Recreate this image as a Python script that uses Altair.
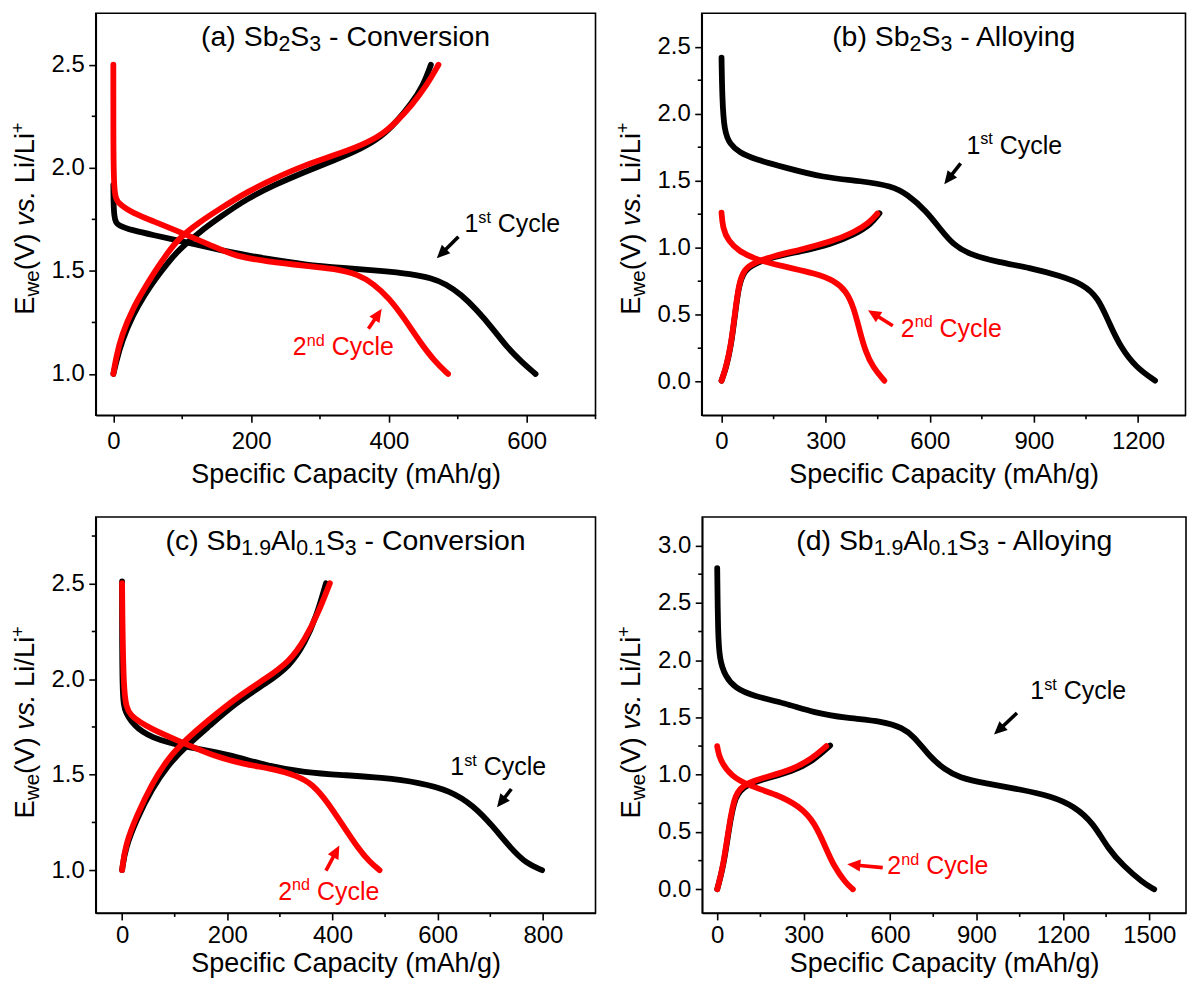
import math
import altair as alt
import pandas as pd

FONT = "Liberation Sans"
INK = "#000000"
RED = "#ff0000"

# ================= data =================
# (a) Sb2S3 - Conversion
a1d_x = [0, 0.5, 6.6, 28.8, 56.5, 100.8, 167, 223, 278, 333.5, 389, 433, 461, 483, 505, 527, 550, 572, 594, 613]
a1d_y = [1.917, 1.748, 1.72, 1.696, 1.675, 1.643, 1.591, 1.559, 1.53, 1.514, 1.501, 1.485, 1.466, 1.437, 1.385, 1.313, 1.224, 1.127, 1.055, 1.0]
a1c_x = [0, 3.9, 12.2, 28.8, 45.4, 62, 78.7, 95.3, 123, 156, 195, 234, 278, 322, 361, 389, 411, 433, 450, 461]
a1c_y = [1.0, 1.055, 1.16, 1.289, 1.385, 1.466, 1.538, 1.603, 1.683, 1.764, 1.852, 1.917, 1.981, 2.038, 2.094, 2.15, 2.223, 2.312, 2.40, 2.5]
a2d_x = [0, 0, 0.5, 6.6, 28.8, 56.5, 100.8, 145, 178, 223, 278, 322, 356, 378, 400, 422, 444, 466, 486]
a2d_y = [2.5, 2.175, 1.868, 1.828, 1.78, 1.743, 1.683, 1.619, 1.570, 1.546, 1.525, 1.511, 1.482, 1.437, 1.369, 1.272, 1.16, 1.063, 1.0]
a2c_x = [0, 3.9, 12.2, 28.8, 45.4, 62, 78.7, 95.3, 123, 156, 195, 234, 278, 322, 361, 389, 411, 433, 455, 472]
a2c_y = [1.0, 1.079, 1.191, 1.321, 1.417, 1.506, 1.587, 1.659, 1.732, 1.804, 1.885, 1.949, 2.013, 2.062, 2.11, 2.158, 2.223, 2.303, 2.40, 2.5]

# (b) Sb2S3 - Alloying
b1d_x = [0, 2, 7.7, 24, 51.6, 95.6, 183.5, 293, 403, 491, 535, 590, 634, 667, 711, 799, 887, 975, 1041, 1085, 1118, 1150, 1194, 1249]
b1d_y = [2.418, 2.12, 1.871, 1.772, 1.71, 1.66, 1.598, 1.523, 1.498, 1.461, 1.399, 1.275, 1.126, 1.026, 0.952, 0.89, 0.852, 0.79, 0.728, 0.629, 0.43, 0.256, 0.107, 0.0075]
b1c_x = [0, 13.2, 27.5, 38.5, 49.5, 64.8, 95.6, 150.5, 227, 315, 381, 431, 455]
b1c_y = [0.0075, 0.102, 0.268, 0.492, 0.716, 0.828, 0.882, 0.932, 0.972, 1.026, 1.096, 1.175, 1.257]
b2d_x = [0, 3.3, 18.7, 51.6, 95.6, 183.5, 271, 326, 359, 381, 398, 414, 436, 469]
b2d_y = [1.262, 1.151, 1.051, 0.972, 0.914, 0.857, 0.808, 0.753, 0.678, 0.554, 0.380, 0.231, 0.107, 0.0075]
b2c_x = [0, 13.2, 27.5, 38.5, 49.5, 64.8, 95.6, 150.5, 227, 315, 381, 425, 449]
b2c_y = [0.0075, 0.107, 0.281, 0.504, 0.728, 0.84, 0.89, 0.939, 0.984, 1.044, 1.113, 1.185, 1.255]

# (c) Sb1.9Al0.1S3 - Conversion
c1d_x = [0, 0, 5.8, 27.6, 71, 129.5, 202, 275, 347.6, 420, 493, 566, 624, 668, 704, 740, 769.5, 798.5]
c1d_y = [2.512, 1.894, 1.825, 1.738, 1.677, 1.642, 1.607, 1.546, 1.512, 1.498, 1.485, 1.459, 1.416, 1.338, 1.233, 1.111, 1.033, 1.0]
c1c_x = [0, 5.8, 27.6, 56.7, 85.8, 122, 166, 216.7, 275, 318.6, 347.6, 369.5, 387.6]
c1c_y = [1.0, 1.111, 1.268, 1.425, 1.546, 1.651, 1.755, 1.877, 1.981, 2.068, 2.19, 2.329, 2.503]
c2d_x = [0, 2.2, 13, 56.7, 115, 173, 231, 289.5, 333, 362, 391, 420, 449.5, 471, 489.5]
c2d_y = [2.503, 1.894, 1.807, 1.738, 1.668, 1.599, 1.555, 1.529, 1.494, 1.451, 1.355, 1.233, 1.111, 1.042, 1.0]
c2c_x = [0, 5.8, 27.6, 56.7, 85.8, 122, 166, 216.7, 275, 318.6, 347.6, 373, 395]
c2c_y = [1.0, 1.129, 1.285, 1.451, 1.581, 1.686, 1.79, 1.903, 2.007, 2.094, 2.208, 2.347, 2.503]

# (d) Sb1.9Al0.1S3 - Alloying
d1d_x = [0, 2.6, 8, 27.8, 61, 127, 233, 339, 445, 577, 643, 683, 736, 789, 842, 921, 1054, 1160, 1239, 1305, 1358, 1411, 1477, 1517]
d1d_y = [2.802, 2.236, 2.004, 1.859, 1.757, 1.684, 1.626, 1.539, 1.496, 1.467, 1.408, 1.336, 1.162, 1.045, 0.973, 0.929, 0.871, 0.813, 0.726, 0.581, 0.348, 0.203, 0.058, 0.0]
d1c_x = [0, 21, 41, 61, 100.6, 180, 259.5, 330, 392]
d1c_y = [0.0, 0.19, 0.53, 0.82, 0.915, 0.975, 1.03, 1.115, 1.255]
d2d_x = [0, 8, 47.7, 114, 206.5, 286, 339, 379, 405, 445, 471]
d2d_y = [1.249, 1.133, 0.987, 0.9, 0.828, 0.726, 0.581, 0.348, 0.203, 0.058, 0.0]
d2c_x = [0, 21, 41, 61, 100.6, 180, 259.5, 325.7, 378.6]
d2c_y = [0.0, 0.203, 0.552, 0.842, 0.929, 0.987, 1.045, 1.133, 1.249]

# axis ranges and ticks
x_domains = {"a": [-25.5, 700], "b": [-57, 1336.7], "c": [-50, 900], "d": [-52, 1627.4]}
y_domains = {"a": [0.8, 2.75], "b": [-0.25, 2.75], "c": [0.776, 2.85], "d": [-0.2065, 3.25]}
x_major = {"a": [0, 200, 400, 600], "b": [0, 300, 600, 900, 1200],
           "c": [0, 200, 400, 600, 800], "d": [0, 300, 600, 900, 1200, 1500]}
x_minor = {"a": [100, 300, 500, 700], "b": [150, 450, 750, 1050],
           "c": [100, 300, 500, 700], "d": [150, 450, 750, 1050, 1350]}
y_major = {"a": [1.0, 1.5, 2.0, 2.5], "b": [0.0, 0.5, 1.0, 1.5, 2.0, 2.5],
           "c": [1.0, 1.5, 2.0, 2.5], "d": [0.0, 0.5, 1.0, 1.5, 2.0, 2.5, 3.0]}
y_minor = {"a": [1.25, 1.75, 2.25], "b": [0.25, 0.75, 1.25, 1.75, 2.25],
           "c": [1.25, 1.75, 2.25, 2.75], "d": [0.25, 0.75, 1.25, 1.75, 2.25, 2.75]}

# titles (rich text pieces: n = normal, sub, sup, it)
titles = {
    "a": [("(a) Sb", "n"), ("2", "sub"), ("S", "n"), ("3", "sub"), (" - Conversion", "n")],
    "b": [("(b) Sb", "n"), ("2", "sub"), ("S", "n"), ("3", "sub"), (" - Alloying", "n")],
    "c": [("(c) Sb", "n"), ("1.9", "sub"), ("Al", "n"), ("0.1", "sub"), ("S", "n"), ("3", "sub"), (" - Conversion", "n")],
    "d": [("(d) Sb", "n"), ("1.9", "sub"), ("Al", "n"), ("0.1", "sub"), ("S", "n"), ("3", "sub"), (" - Alloying", "n")],
}
y_title = [("E", "n"), ("we", "sub"), ("(V) ", "n"), ("vs.", "it"), (" Li/Li", "n"), ("+", "sup")]
x_title = "Specific Capacity (mAh/g)"
lab1 = [("1", "n"), ("st", "sup"), (" Cycle", "n")]
lab2 = [("2", "n"), ("nd", "sup"), (" Cycle", "n")]

# annotation anchors (text start, baseline) and arrows (tail -> tip), data units
ann1 = {"a": (509.7, 1.687), "b": (705.5, 1.702), "c": (624, 1.498), "d": (1087, 1.661)}
ann2 = {"a": (260.6, 1.09), "b": (516.5, 0.335), "c": (296.7, 0.845), "d": (590.5, 0.131)}
arr1 = {"a": (501, 1.666, 469.6, 1.561), "b": (689, 1.630, 641.7, 1.474),
        "c": (740, 1.425, 712.8, 1.329), "d": (1040.6, 1.539, 961, 1.350)}
arr2 = {"a": (370.3, 1.219, 389.6, 1.316), "b": (493.4, 0.4175, 422, 0.534),
        "c": (387.6, 0.998, 413, 1.129), "d": (574.6, 0.189, 451.4, 0.218)}

curves = {
    "a": [(a1d_x, a1d_y, INK), (a1c_x, a1c_y, INK), (a2d_x, a2d_y, RED), (a2c_x, a2c_y, RED)],
    "b": [(b1d_x, b1d_y, INK), (b1c_x, b1c_y, INK), (b2d_x, b2d_y, RED), (b2c_x, b2c_y, RED)],
    "c": [(c1d_x, c1d_y, INK), (c1c_x, c1c_y, INK), (c2d_x, c2d_y, RED), (c2c_x, c2c_y, RED)],
    "d": [(d1d_x, d1d_y, INK), (d1c_x, d1c_y, INK), (d2d_x, d2d_y, RED), (d2c_x, d2c_y, RED)],
}

# ================= layout / style =================
W = {"a": 501, "b": 485, "c": 501, "d": 485}
HH = {"a": 403, "b": 403, "c": 397, "d": 397}
TITLE_FS = 28.5
AX_TITLE_FS = 27
YT_FS = 27.5
TICK_FS = 24
ANN_FS = 25
SUB_R = 0.75
SUP_R = 0.65

CW = {' ': 278, '(': 333, ')': 333, '+': 584, '-': 333, '.': 278, '/': 278,
      'A': 667, 'C': 722, 'E': 667, 'L': 556, 'S': 667, 'V': 667,
      'a': 556, 'b': 556, 'c': 500, 'd': 556, 'e': 556, 'f': 278, 'g': 556,
      'h': 556, 'i': 222, 'l': 222, 'm': 833, 'n': 556, 'o': 556, 'p': 556,
      'r': 333, 's': 500, 't': 278, 'v': 500, 'w': 722, 'y': 500}

ONE = pd.DataFrame({"k": [0]})


def text_w(s, fs):
    return sum(CW.get(ch, 556) for ch in s) * fs / 1000.0


def rich(pieces, fs, color=INK, angle=0, center=True, px=None, data_pos=None, enc=None):
    sizes = []
    for t, k in pieces:
        sizes.append(fs * SUB_R if k == "sub" else fs * SUP_R if k == "sup" else fs)
    widths = [text_w(t, s) for (t, k), s in zip(pieces, sizes)]
    cur = -sum(widths) / 2 if center else 0.0
    layers = []
    for (t, k), s, w in zip(pieces, sizes, widths):
        lead = len(t) - len(t.lstrip(" "))
        shown = t.strip(" ")
        dy = 0.18 * fs if k == "sub" else (-0.38 * fs if k == "sup" else 0.0)
        mk = dict(text=shown, font=FONT, fontSize=s, align="left",
                  baseline="alphabetic", dx=cur + text_w(" " * lead, s), dy=dy, color=color,
                  fontStyle="italic" if k == "it" else "normal")
        if angle:
            mk["angle"] = angle
        if data_pos is not None:
            df = pd.DataFrame({"x": [data_pos[0]], "y": [data_pos[1]]})
            layer = alt.Chart(df).mark_text(**mk).encode(x=enc[0]("x:Q"), y=enc[1]("y:Q"))
        else:
            layer = alt.Chart(ONE).mark_text(**mk).encode(
                x=alt.value(px[0]), y=alt.value(px[1]))
        layers.append(layer)
        cur += w
    return layers


def arrow(tail_tip, color, xs_dom, ys_dom, w, h, enc):
    x1, y1, x2, y2 = tail_tip
    sx = w / (xs_dom[1] - xs_dom[0])
    sy = h / (ys_dom[1] - ys_dom[0])
    dxs = (x2 - x1) * sx
    dys = -(y2 - y1) * sy
    L = math.hypot(dxs, dys)
    ux, uy = dxs / L, dys / L
    ang = math.degrees(math.atan2(ux, -uy)) % 360
    head_c = (x2 - 7.5 * ux / sx, y2 + 7.5 * uy / sy)
    shaft_e = (x2 - 10 * ux / sx, y2 + 10 * uy / sy)
    sh = pd.DataFrame({"x": [x1], "y": [y1], "x2": [shaft_e[0]], "y2": [shaft_e[1]]})
    shaft = alt.Chart(sh).mark_rule(color=color, strokeWidth=3.6).encode(
        x=enc[0]("x:Q"), y=enc[1]("y:Q"), x2="x2:Q", y2="y2:Q")
    hd = pd.DataFrame({"x": [head_c[0]], "y": [head_c[1]]})
    head = alt.Chart(hd).mark_point(
        shape="M0,-1L0.8,0.75L-0.8,0.75Z", filled=True, color=color, opacity=1,
        size=225, angle=ang, strokeWidth=0).encode(x=enc[0]("x:Q"), y=enc[1]("y:Q"))
    return [shaft, head]


def panel(key, title_dx=0, label_pad=7.5, title_pad=8):
    w = W[key]
    h = HH[key]
    xs = alt.Scale(domain=x_domains[key], nice=False, zero=False)
    ys = alt.Scale(domain=y_domains[key], nice=False, zero=False)
    x_axis = alt.Axis(values=x_major[key], format="d", title=x_title, titleFont=FONT,
                      titleFontSize=AX_TITLE_FS, titleFontWeight="normal", titleColor=INK,
                      titlePadding=title_pad, labelFont=FONT, labelFontSize=TICK_FS,
                      labelColor=INK, labelPadding=label_pad, tickSize=7, tickWidth=1.6,
                      tickColor=INK, domainColor=INK, domainWidth=1.6, grid=False,
                      labelFlush=False, labelOverlap=False)
    y_axis = alt.Axis(values=y_major[key], format=".1f", title="", labelFont=FONT,
                      labelFontSize=TICK_FS, labelColor=INK, labelPadding=4.5, tickSize=7,
                      tickWidth=1.6, tickColor=INK, domainColor=INK, domainWidth=1.6,
                      grid=False, labelOverlap=False, labelFlush=False)

    def X(f):
        return alt.X(f, scale=xs, axis=x_axis)

    def Y(f):
        return alt.Y(f, scale=ys, axis=y_axis)

    enc = (X, Y)
    rows = []
    for ci, (cx, cy, col) in enumerate(curves[key]):
        for i, (xv, yv) in enumerate(zip(cx, cy)):
            rows.append({"x": xv, "y": yv, "curve": ci, "i": i, "col": col})
    df = pd.DataFrame(rows)
    layers = []
    for col in (INK, RED):
        layers.append(alt.Chart(df[df["col"] == col]).mark_line(
            color=col, strokeWidth=5.8, interpolate="basis", strokeCap="round",
            strokeJoin="round").encode(x=X("x:Q"), y=Y("y:Q"), detail="curve:N", order="i:Q"))
    # minor ticks
    ym = pd.DataFrame({"v": y_minor[key]})
    layers.append(alt.Chart(ym).mark_rule(color=INK, strokeWidth=1.6).encode(
        y=Y("v:Q"), x=alt.value(0), x2=alt.value(-4)))
    xm = pd.DataFrame({"v": x_minor[key]})
    layers.append(alt.Chart(xm).mark_rule(color=INK, strokeWidth=1.6).encode(
        x=X("v:Q"), y=alt.value(h), y2=alt.value(h + 4)))
    # title
    layers += rich(titles[key], TITLE_FS, px=(w / 2 + title_dx, 33))
    # y axis title
    layers += rich(y_title, YT_FS, angle=270, px=(-62, 206))
    # annotations
    layers += rich(lab1, ANN_FS, color=INK, center=False, data_pos=ann1[key], enc=enc)
    layers += rich(lab2, ANN_FS, color=RED, center=False, data_pos=ann2[key], enc=enc)
    layers += arrow(arr1[key], INK, x_domains[key], y_domains[key], w, h, enc)
    layers += arrow(arr2[key], RED, x_domains[key], y_domains[key], w, h, enc)
    return alt.layer(*layers).properties(width=w, height=h)


row1 = alt.hconcat(panel("a"), panel("b", 11), spacing=16.5)
row2 = alt.hconcat(panel("c", 0, 4, 2.5), panel("d", 11, 4, 2.5), spacing=18)
chart = alt.vconcat(row1, row2, spacing=27).properties(
    padding={"left": 0, "top": 3, "right": 0, "bottom": 0}, background="white"
).configure_view(stroke=INK, strokeWidth=1.6)

chart.save("out.html", embed_options={"renderer": "svg", "actions": False})
